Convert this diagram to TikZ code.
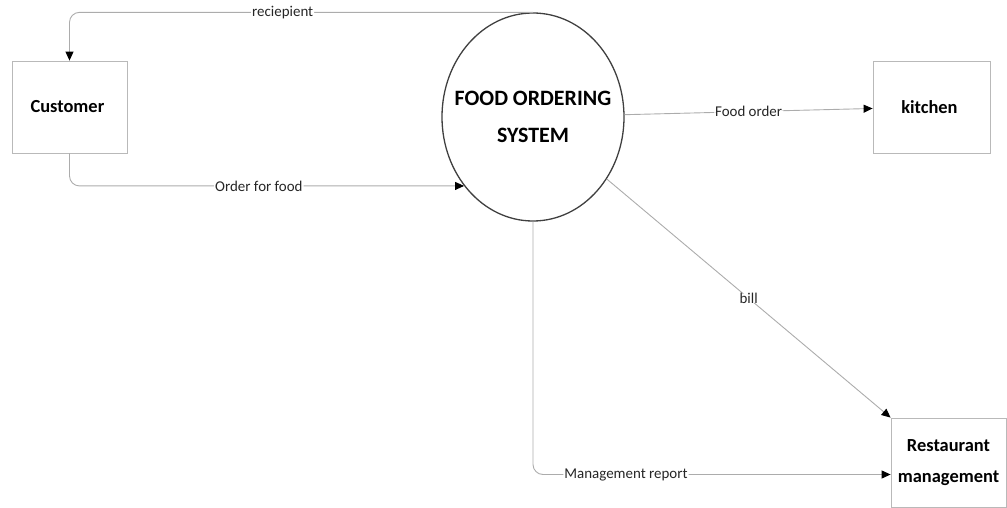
\documentclass[tikz,border=0pt]{standalone}
\usepackage{fontspec}
\setmainfont{Carlito}
\usetikzlibrary{arrows.meta,positioning,shapes,shapes.geometric}
\usepackage{xcolor}

\begin{document}
\begin{tikzpicture}[x=1bp, y=-1bp,
    entity/.style={
        rectangle,
        draw=gray!55,
        line width=0.8bp,
        minimum width=115bp,
        minimum height=92bp,
        align=center,
        font=\bfseries\fontsize{18.5}{31}\selectfont
    },
    process/.style={
        ellipse,
        draw=black!75,
        line width=1.3bp,
        inner sep=0pt,
        minimum width=182bp,
        minimum height=208bp,
        align=center,
        font=\bfseries\fontsize{22}{37}\selectfont
    },
    flow/.style={
        draw=gray!65,
        line width=0.9bp,
        rounded corners=10bp,
        -{Triangle[length=9bp, width=8bp, color=black]}
    },
    flowlabel/.style={
        fill=white,
        inner sep=1bp,
        text=black!85,
        font=\fontsize{15}{17}\selectfont
    }
]
    \useasboundingbox (0, 0) rectangle (1007, 508);

    %entities
    \node (customer) [entity, shift={(69.5, 107)}]
    {
        Customer
    };
    \node (kitchen) [entity, minimum width=117bp, shift={(931.5, 107)}]
    {
        kitchen
    };
    \node (restaurant_management) [entity, minimum height=89bp, shift={(948.5, 462.5)}]
    {
        Restaurant\\management
    };

    %process
    \node (food_ordering_system) [process, shift={(533, 117)}]
    {
        \makebox[0pt]{FOOD ORDERING}\\\makebox[0pt]{SYSTEM}
    };

    %flows
    \draw[flow] (food_ordering_system.north) -| (customer.north)
        node[flowlabel, pos=0.27] {reciepient};
    \draw[flow] (customer.south) |- (food_ordering_system.225)
        node[flowlabel, pos=0.74] {Order for food};
    \draw[flow] (food_ordering_system) to
        node[flowlabel] {Food order} (kitchen);
    \draw[flow] (food_ordering_system) to
        node[flowlabel] {bill} (restaurant_management.north west);
    \draw[flow] (food_ordering_system.south) |- ([yshift=-12bp]restaurant_management.west)
        node[flowlabel, pos=0.63] {Management report};

\end{tikzpicture}
\end{document}
